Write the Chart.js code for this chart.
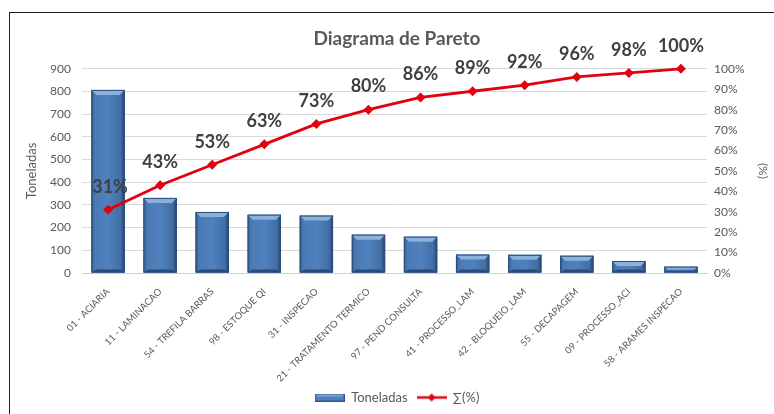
<!DOCTYPE html>
<html>
<head>
<meta charset="utf-8">
<title>Diagrama de Pareto</title>
<script src="https://cdn.jsdelivr.net/npm/chart.js@4"></script>
<style>
  html, body { margin: 0; padding: 0; background: #fff; overflow: hidden; }
  #wrap { position: relative; width: 774px; height: 414px; }
  #frame { position: absolute; left: 9px; top: 12px; width: 900px; height: 500px;
           border: 1px solid #1e1e1e; pointer-events: none; }
</style>
</head>
<body>
<div id="wrap">
  <canvas id="pareto" width="774" height="414"></canvas>
  <div id="frame"></div>
</div>
<script>
// ---- data ----
const categories = [
  '01 - ACIARIA', '11 - LAMINACAO', '54 - TREFILA BARRAS', '98 - ESTOQUE QI',
  '31 - INSPECAO', '21 - TRATAMENTO TERMICO', '97 - PEND CONSULTA', '41 - PROCESSO_LAM',
  '42 - BLOQUEIO_LAM', '55 - DECAPAGEM', '09 - PROCESSO_ACI', '58 - ARAMES INSPECAO'
];
const toneladas = [807, 331, 269, 257, 253, 169, 160, 81, 80, 76, 53, 28];
const acumulado = [31, 43, 53, 63, 73, 80, 86, 89, 92, 96, 98, 100];

const leftTicks = [0, 100, 200, 300, 400, 500, 600, 700, 800, 900];
const rightTicks = [0, 10, 20, 30, 40, 50, 60, 70, 80, 90, 100];

const FONT = 'Lato, "Open Sans", sans-serif';
const GREY = '#595959';
const BLUE = '#4f81bd';
const RED = '#e3000f';

// ---- legend icons ----
function barIcon() {
  const c = document.createElement('canvas');
  c.width = 30; c.height = 8;
  const g = c.getContext('2d');
  g.fillStyle = '#2f5788'; g.fillRect(0, 0, 30, 8);
  g.fillStyle = BLUE; g.fillRect(1, 1, 28, 6);
  g.fillStyle = '#7ea3d2'; g.fillRect(2, 1, 26, 2);
  return c;
}
function lineIcon() {
  const c = document.createElement('canvas');
  c.width = 30; c.height = 10;
  const g = c.getContext('2d');
  g.strokeStyle = RED; g.lineWidth = 2.5;
  g.beginPath(); g.moveTo(0, 5); g.lineTo(30, 5); g.stroke();
  g.fillStyle = RED;
  g.beginPath(); g.moveTo(15, 1); g.lineTo(19, 5); g.lineTo(15, 9); g.lineTo(11, 5); g.closePath(); g.fill();
  return c;
}
const icons = [barIcon(), lineIcon()];

// bevelled look for the columns
const bevelPlugin = {
  id: 'bevel',
  afterDatasetDraw(chart, args) {
    if (args.index !== 0) return;
    const ctx = chart.ctx;
    args.meta.data.forEach(bar => {
      const p = bar.getProps(['x', 'y', 'base', 'width'], true);
      const l = p.x - p.width / 2, r = p.x + p.width / 2;
      const t = p.y, b = p.base, h = b - t;
      const e = Math.min(5, h / 2);
      ctx.save();
      const grd = ctx.createLinearGradient(l, 0, r, 0);
      grd.addColorStop(0, '#365f91');
      grd.addColorStop(0.12, '#4b7bb6');
      grd.addColorStop(0.5, '#4f81bd');
      grd.addColorStop(0.88, '#416fa6');
      grd.addColorStop(1, '#23406a');
      ctx.fillStyle = grd;
      ctx.fillRect(l, t, p.width, h);
      // top face
      ctx.fillStyle = '#8cb0dc';
      ctx.beginPath();
      ctx.moveTo(l, t); ctx.lineTo(r, t); ctx.lineTo(r - e, t + e); ctx.lineTo(l + e, t + e);
      ctx.closePath(); ctx.fill();
      // bottom face
      ctx.fillStyle = '#284a78';
      ctx.beginPath();
      ctx.moveTo(l, b); ctx.lineTo(r, b); ctx.lineTo(r - e, b - e * 0.6); ctx.lineTo(l + e, b - e * 0.6);
      ctx.closePath(); ctx.fill();
      ctx.strokeStyle = '#2a4d7c'; ctx.lineWidth = 1;
      ctx.strokeRect(l + 0.5, t + 0.5, p.width - 1, h - 1);
      ctx.restore();
    });
  }
};

// percentage labels above the cumulative line
const pctLabels = {
  id: 'pctLabels',
  afterDatasetsDraw(chart) {
    const meta = chart.getDatasetMeta(1);
    const ctx = chart.ctx;
    ctx.save();
    ctx.font = 'bold 18px ' + FONT;
    ctx.fillStyle = '#404040';
    ctx.textAlign = 'center';
    ctx.textBaseline = 'middle';
    meta.data.forEach((pt, i) => {
      ctx.fillText(acumulado[i] + '%', pt.x + (i === 0 ? 2 : 0), pt.y - 23);
    });
    ctx.restore();
  }
};

new Chart(document.getElementById('pareto'), {
  data: {
    labels: categories,
    datasets: [
      {
        type: 'bar',
        label: 'Toneladas',
        data: toneladas,
        yAxisID: 'y',
        backgroundColor: BLUE,
        barPercentage: 0.64,
        categoryPercentage: 1,
        order: 1
      },
      {
        type: 'line',
        label: '∑(%)',
        data: acumulado,
        yAxisID: 'y1',
        borderColor: RED,
        backgroundColor: RED,
        borderWidth: 2.8,
        pointStyle: 'rectRot',
        pointRadius: 5,
        pointBorderWidth: 0,
        tension: 0,
        clip: false,
        order: 0
      }
    ]
  },
  options: {
    responsive: false,
    animation: false,
    layout: { padding: { left: 20, right: 0, top: 27, bottom: 0 } },
    plugins: {
      title: {
        display: true,
        text: 'Diagrama de Pareto',
        color: GREY,
        font: { family: FONT, size: 19, weight: 'bold' },
        padding: { top: 0, bottom: 19 }
      },
      legend: {
        position: 'bottom',
        labels: {
          usePointStyle: true,
          pointStyleWidth: 30,
          boxHeight: 10,
          color: GREY,
          font: { family: FONT, size: 13 },
          padding: 9,
          generateLabels(chart) {
            return chart.data.datasets.map((ds, i) => ({
              text: ds.label,
              fontColor: GREY,
              pointStyle: icons[i],
              datasetIndex: i,
              hidden: false,
              lineWidth: 0
            }));
          }
        }
      },
      tooltip: { enabled: false }
    },
    scales: {
      x: {
        grid: { display: false },
        border: { color: '#d0d0d0' },
        ticks: {
          color: GREY,
          font: { family: FONT, size: 9.5 },
          minRotation: 45,
          maxRotation: 45,
          padding: 5,
          autoSkip: false
        },
        afterFit: s => { s.height = 109; }
      },
      y: {
        position: 'left',
        min: 0,
        max: 900,
        afterBuildTicks: s => { s.ticks = leftTicks.map(v => ({ value: v })); },
        grid: { color: '#d9d9d9', drawTicks: false },
        border: { display: false },
        ticks: { color: GREY, font: { family: FONT, size: 12 }, padding: 11 },
        title: {
          display: true,
          text: 'Toneladas',
          color: GREY,
          font: { family: FONT, size: 13 },
          padding: { top: 4, bottom: 0 }
        },
        afterFit: s => { s.width = 62; }
      },
      y1: {
        position: 'right',
        min: 0,
        max: 100,
        afterBuildTicks: s => { s.ticks = rightTicks.map(v => ({ value: v })); },
        grid: { display: false, drawTicks: false },
        border: { display: false },
        ticks: {
          color: GREY,
          font: { family: FONT, size: 12 },
          padding: 7,
          callback: v => v + '%'
        },
        title: {
          display: true,
          text: '(%)',
          color: GREY,
          font: { family: FONT, size: 12 },
          padding: { top: 4, bottom: 0 }
        },
        afterFit: s => { s.width = 67; }
      }
    }
  },
  plugins: [bevelPlugin, pctLabels]
});
</script>
</body>
</html>
